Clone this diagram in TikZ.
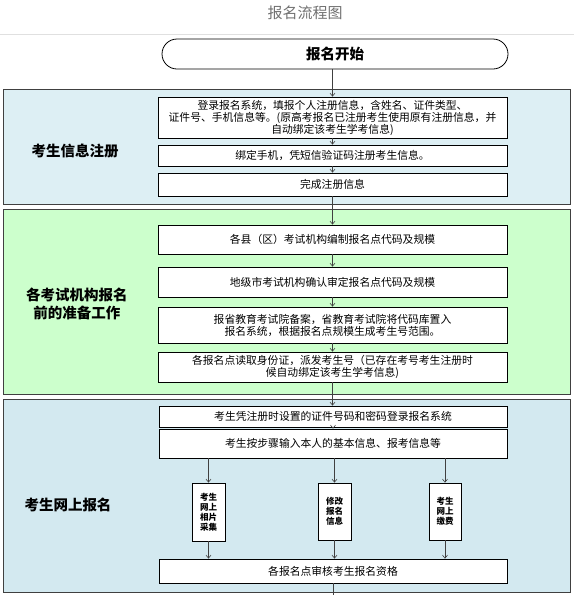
\documentclass[tikz,border=0pt]{standalone}
\usepackage{fontspec}
\setmainfont{Noto Sans CJK SC}
\usetikzlibrary{arrows.meta}
\definecolor{secA}{HTML}{DDEFF4}
\definecolor{secB}{HTML}{CCFFCC}
\definecolor{secC}{HTML}{D3E9F0}
\definecolor{bord}{HTML}{404040}
\definecolor{titlegray}{HTML}{707070}
\tikzset{
  section/.style={draw=bord, line width=0.9pt, inner sep=0pt},
  seclabel/.style={font=\bfseries\fontsize{14.5}{18}\selectfont, align=center, inner sep=0pt},
  box/.style={draw=black, fill=white, line width=0.8pt, inner sep=0pt, align=center,
    font=\fontsize{10.8}{12}\selectfont},
  smallbox/.style={draw=black, fill=white, line width=0.8pt, inner sep=0pt, align=center,
    font=\bfseries\fontsize{8.5}{10}\selectfont},
  terminal/.style={draw=black, fill=white, line width=0.8pt, rounded corners=15pt, inner sep=0pt,
    font=\bfseries\fontsize{14.5}{18}\selectfont},
  arr/.style={draw=black!75, line width=0.6pt, -{Straight Barb[length=3pt,width=5pt]}},
  plainline/.style={draw=black!75, line width=0.6pt}
}
\begin{document}
\begin{tikzpicture}[x=1pt,y=-1pt]
\useasboundingbox (0,0) rectangle (574,595);
% title
\node[font=\fontsize{15}{18}\selectfont, text=titlegray, inner sep=0pt] (title) at (305,13) {报名流程图};
\coordinate (sepL) at (0,34);
\coordinate (sepR) at (574,34);
\draw[black!12, line width=0.6pt] (sepL) -- (sepR);

% sections
\node[section, fill=secA, minimum width=567pt, minimum height=115pt] (s1) at (286.5,146.5) {};
\node[section, fill=secB, minimum width=567pt, minimum height=185pt] (s2) at (286.5,301.5) {};
\node[section, fill=secC, minimum width=567pt, minimum height=193pt] (s3) at (286.5,495.5) {};

\node[seclabel] (l1) at (75,151) {考生信息注册};
\node[seclabel] (l2) at (77,304) {各考试机构报名\\前的准备工作};
\node[seclabel] (l3) at (68,505) {考生网上报名};

% start
\node[terminal, minimum width=346pt, minimum height=30pt] (start) at (335,54) {报名开始};

% section 1 boxes
\node[box, minimum width=349pt, minimum height=41pt] (b1) at (332.5,117.5)
  {登录报名系统，填报个人注册信息，含姓名、证件类型、\\证件号、手机信息等。(原高考报名已注册考生使用原有注册信息，并\\自动绑定该考生学考信息)};
\node[box, minimum width=349pt, minimum height=21pt] (b2) at (332.5,155.5)
  {绑定手机，凭短信验证码注册考生信息。};
\node[box, minimum width=349pt, minimum height=23pt] (b3) at (332.5,184.5)
  {完成注册信息};

% section 2 boxes
\node[box, minimum width=349pt, minimum height=29pt] (c1) at (332.5,239.5)
  {各县（区）考试机构编制报名点代码及规模};
\node[box, minimum width=349pt, minimum height=30pt] (c2) at (332.5,282)
  {地级市考试机构确认审定报名点代码及规模};
\node[box, minimum width=349pt, minimum height=36pt] (c3) at (332.5,325)
  {报省教育考试院备案，省教育考试院将代码库置入\\报名系统，根据报名点规模生成考生号范围。};
\node[box, minimum width=349pt, minimum height=30pt] (c4) at (332.5,367)
  {各报名点读取身份证，派发考生号（已存在考号考生注册时\\候自动绑定该考生学考信息)};

% section 3 boxes
\node[box, minimum width=348pt, minimum height=21pt] (d1) at (333,416.5)
  {考生凭注册时设置的证件号码和密码登录报名系统};
\node[box, minimum width=348pt, minimum height=29pt] (d2) at (333,443.5)
  {考生按步骤输入本人的基本信息、报考信息等};
\node[smallbox, minimum width=33pt, minimum height=58pt] (g1) at (208.5,512)
  {考生\\网上\\相片\\采集};
\node[smallbox, minimum width=33pt, minimum height=57pt] (g2) at (334.5,511.5)
  {修改\\报名\\信息};
\node[smallbox, minimum width=32pt, minimum height=57pt] (g3) at (445,511.5)
  {考生\\网上\\缴费};
\node[box, minimum width=348pt, minimum height=24pt] (h) at (333,571)
  {各报名点审核考生报名资格};
\coordinate (bottomend) at (333,595);

% connectors
\draw[arr] (b1.north |- start.south) -- (b1.north);
\draw[arr] (b1) -- (b2);
\draw[arr] (b2) -- (b3);
\draw[arr] (b3) -- (c1);
\draw[arr] (c1) -- (c2);
\draw[arr] (c2) -- (c3);
\draw[arr] (c3) -- (c4);
\draw[arr] (c4.south) -- (c4.south |- d1.north);
\draw[arr] (d1) -- (d2);
\draw[arr] (g1.north |- d2.south) -- (g1.north);
\draw[arr] (g2.north |- d2.south) -- (g2.north);
\draw[arr] (g3.north |- d2.south) -- (g3.north);
\draw[arr] (g1.south) -- (g1.south |- h.north);
\draw[arr] (g2.south) -- (g2.south |- h.north);
\draw[arr] (g3.south) -- (g3.south |- h.north);
\draw[plainline] (h.south) -- (bottomend);
\end{tikzpicture}
\end{document}
